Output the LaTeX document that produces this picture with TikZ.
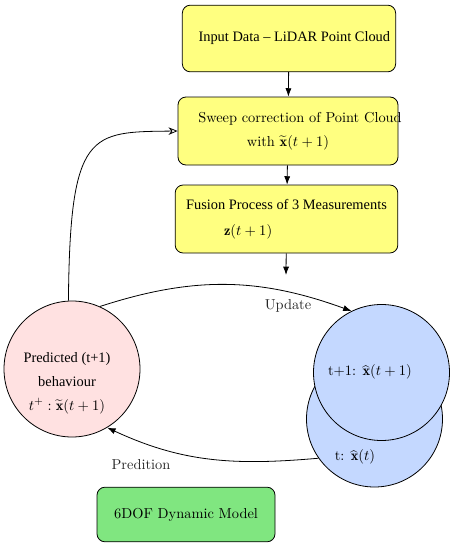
\documentclass[tikz,border=0pt]{standalone}
\usepackage{fontspec}
\newfontfamily\tms{Liberation Serif}
\usetikzlibrary{arrows.meta, positioning, shapes.geometric, calc}
\definecolor{cyellow}{HTML}{FFFF80}
\definecolor{cpink}{HTML}{FFE1E1}
\definecolor{cblue}{HTML}{C4D8FF}
\definecolor{cgreen}{HTML}{80E680}
\tikzset{
  every picture/.style={line width=0.6pt},
  every node/.style={font=\fontsize{10.8}{13}\selectfont},
  box/.style={draw=black, fill=#1, rounded corners=6pt, align=center, inner sep=4pt},
  box/.default=cyellow,
  state/.style={circle, draw=black, fill=#1, minimum size=102pt, inner sep=0pt, align=center},
  arrow/.style={-{Latex[length=2.2mm, width=1.6mm]}, draw=black, line width=0.6pt},
  back/.style={-{Stealth[length=2.4mm, width=2mm, open]}, draw=black, line width=0.6pt},
  note/.style={text=black!85},
}
\begin{document}
\begin{tikzpicture}[x=0.75pt, y=-0.75pt]
  \useasboundingbox (0,0) rectangle (456,550);
  % processing chain
  \node[box, minimum width=160pt, minimum height=50pt] (input) at (289,38.5) {\tms\hspace*{4pt}Input Data \textendash{} LiDAR Point Cloud\hspace*{-4pt}};
  \node[box, minimum width=165pt, minimum height=51pt] (sweep) at (288,131) {\hspace*{9pt}Sweep correction of Point Cloud\hspace*{-9pt}\\[5pt]with $\widetilde{\mathbf{x}}(t+1)$};
  \node[box, minimum width=167pt, minimum height=51pt, align=left] (fusion) at (286.5,219) {{\tms Fusion Process of 3 Measurements}\\[6.5pt]\hspace*{1.0cm}$\mathbf{z}(t+1)$};
  \coordinate (fusout) at (286,275);
  \draw[arrow] (input) -- (sweep);
  \draw[arrow] (sweep) -- (fusion);
  \draw[arrow] (fusion) -- (fusout);
  % state circles
  \node[state=cpink] (pred) at (72,369) {};
  \node[align=center] (predtxt) at (67,383) {\tms Predicted (t+1)\\[5pt]\tms behaviour\\[5pt]$t^{+}:\widetilde{\mathbf{x}}(t+1)$};
  \node[state=cblue] (past) at (374.5,419) {};
  \node[state=cblue] (now) at (381.5,372.5) {};
  \node (nowlab) at (370,372) {t+1: $\widehat{\mathbf{x}}(t+1)$};
  \node (pastlab) at (355,457) {t: $\widehat{\mathbf{x}}(t)$};
  \draw[arrow] (pred.66) to[out=18, in=160] (now.116);
  \node[note] (updlab) at (288,306) {Update};
  \draw[arrow] (past.215) to[out=185, in=-25] (pred.301);
  \node[note] (predlab) at (141,465) {Predition};
  \draw[back] (pred.93) .. controls (70,130) and (90,132) .. (sweep.west);
  % model
  \node[box=cgreen, minimum width=133.5pt, minimum height=41pt] (model) at (186,514.5) {6DOF Dynamic Model};
\end{tikzpicture}
\end{document}
